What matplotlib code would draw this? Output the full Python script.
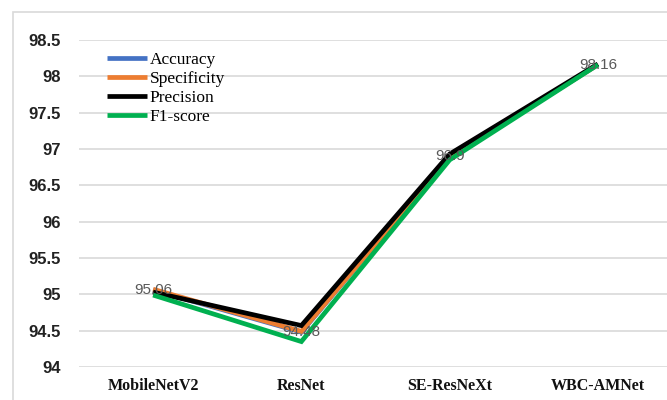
import matplotlib.pyplot as plt
from matplotlib.patches import Rectangle

models = ['MobileNetV2', 'ResNet', 'SE-ResNeXt', 'WBC-AMNet']
accuracy = [95.06, 94.48, 96.90, 98.16]
specificity = [95.07, 94.49, 96.89, 98.16]
precision = [95.03, 94.57, 96.93, 98.17]
f1_score = [94.99, 94.35, 96.85, 98.16]
yticks = [94, 94.5, 95, 95.5, 96, 96.5, 97, 97.5, 98, 98.5]

series = [
    ('Accuracy', accuracy, '#4472c4'),
    ('Specificity', specificity, '#ed7d31'),
    ('Precision', precision, '#000000'),
    ('F1-score', f1_score, '#00b050'),
]

fig = plt.figure(figsize=(6.67, 4.0), dpi=100, facecolor='white')
W, H = 667, 400
# plot area in pixels: left 79, right 672, top 40 (98.5), bottom 367 (94)
ax = fig.add_axes([79 / W, 1 - 367 / H, (672 - 79) / W, (367 - 40) / H])
ax.set_facecolor('none')

# light chart border
fig.patches.append(Rectangle((13 / W, -0.1), 1.2, 1 - 12 / H + 0.1,
                             transform=fig.transFigure, fill=False,
                             edgecolor='#d9d9d9', linewidth=1.2))

x = range(len(models))
for name, vals, color in series:
    ax.plot(x, vals, color=color, linewidth=3.4, label=name,
            solid_capstyle='butt', solid_joinstyle='miter', zorder=3)

for i, v in enumerate(accuracy):
    ax.text(i, v, f'{v:g}', ha='center', va='center', fontsize=11,
            color='#595959', family='Liberation Sans', zorder=5)

ax.set_xlim(-0.5, 3.5)
ax.set_ylim(94, 98.5)
ax.set_yticks(yticks)
ax.set_yticklabels([f'{t:g}' for t in yticks], fontsize=12,
                   fontweight='bold', family='Liberation Sans', color='#222222')
ax.set_xticks(list(x))
ax.set_xticklabels(models, fontsize=11.5, fontweight='bold',
                   family='Liberation Serif', color='#111111')
ax.tick_params(axis='both', length=0)
ax.tick_params(axis='y', pad=13)
ax.tick_params(axis='x', pad=8)
ax.grid(axis='y', color='#d9d9d9', linewidth=1.2)
ax.set_axisbelow(True)
for s in ax.spines.values():
    s.set_visible(False)

leg = ax.legend(loc='upper left', bbox_to_anchor=(0.036, 0.985),
                frameon=False, handlelength=2.3, handletextpad=0.15,
                labelspacing=0.17, borderaxespad=0,
                prop={'family': 'Liberation Serif', 'size': 12.5})
for line in leg.get_lines():
    line.set_linewidth(3.4)

fig.savefig('out.png', dpi=100, facecolor='white')
